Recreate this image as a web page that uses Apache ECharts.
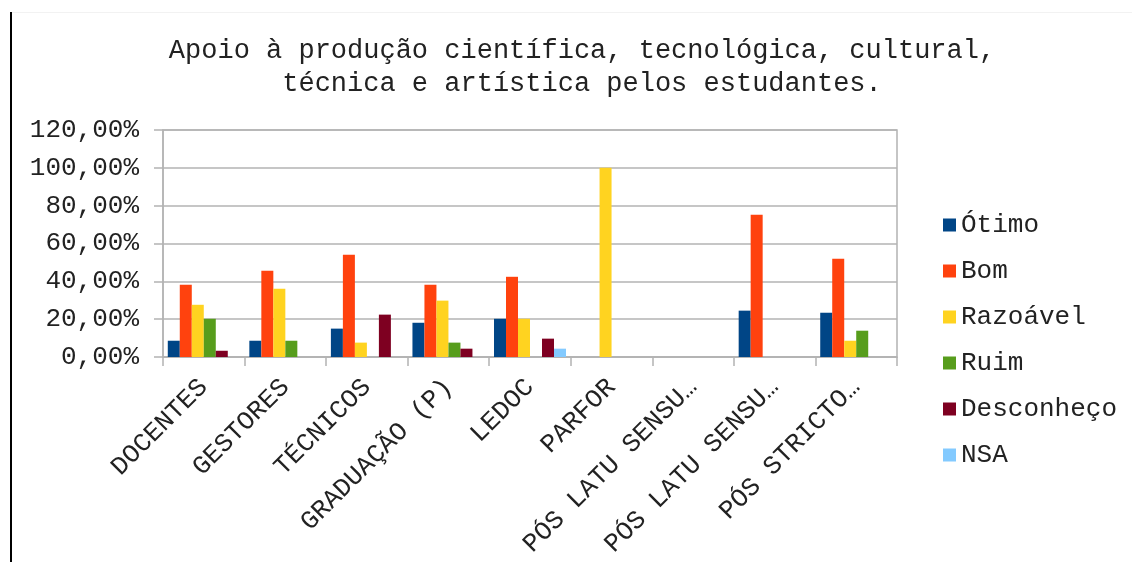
<!DOCTYPE html>
<html>
<head>
<meta charset="utf-8">
<script src="https://cdn.jsdelivr.net/npm/echarts@6/dist/echarts.min.js"></script>
<style>
  html, body { margin: 0; padding: 0; background: #fff; }
  #chart { width: 1132px; height: 562px; }
</style>
</head>
<body>
<div id="chart"></div>
<script>
// categorias (rótulos como aparecem, já cortados)
const categorias = ['DOCENTES', 'GESTORES', 'TÉCNICOS', 'GRADUAÇÃO (P)', 'LEDOC', 'PARFOR',
  'PÓS LATU SENSU…', 'PÓS LATU SENSU…', 'PÓS STRICTO…']
const nomes = ['Ótimo', 'Bom', 'Razoável', 'Ruim', 'Desconheço', 'NSA']
const cores = ['#004586', '#ff420e', '#ffd320', '#579d1c', '#7e0021', '#83caff']

// valores em %
const otimo      = [8.6, 8.6, 15.0, 18.1, 20.2, 0, 0, 24.5, 23.4]
const bom        = [38.2, 45.6, 54.0, 38.2, 42.4, 0, 0, 75.2, 51.9]
const razoavel   = [27.6, 36.1, 7.6, 29.8, 20.2, 100, 0, 0, 8.6]
const ruim       = [20.2, 8.6, 0, 7.6, 0, 0, 0, 0, 13.9]
const desconheco = [3.3, 0, 22.4, 4.4, 9.7, 0, 0, 0, 0]
const nsa        = [0, 0, 0, 0, 4.4, 0, 0, 0, 0]
const valores = [otimo, bom, razoavel, ruim, desconheco, nsa]

const fonte = 'Liberation Mono'
const cinza = '#b3b3b3'

let myChart = echarts.init(document.getElementById('chart'))

let series = nomes.map((n, i) => ({
  name: n,
  type: 'bar',
  barWidth: 12,
  barGap: '0%',
  itemStyle: { color: cores[i] },
  data: valores[i]
}))

let option = {
  animation: false,
  textStyle: { fontFamily: fonte, color: '#222' },
  title: {
    text: 'Apoio à produção científica, tecnológica, cultural,\ntécnica e artística pelos estudantes.',
    left: 577,
    top: 29,
    textAlign: 'center',
    textStyle: {
      fontFamily: fonte,
      fontSize: 27,
      fontWeight: 'normal',
      lineHeight: 33,
      color: '#222'
    }
  },
  legend: {
    orient: 'vertical',
    left: 938,
    top: 207,
    icon: 'rect',
    itemWidth: 13,
    itemHeight: 13,
    itemGap: 20,
    data: nomes,
    textStyle: { fontFamily: fonte, fontSize: 26, lineHeight: 26, color: '#222' }
  },
  grid: {
    left: 163,
    right: 235,
    top: 130,
    bottom: 205,
    show: true,
    borderColor: cinza,
    borderWidth: 1.5
  },
  xAxis: {
    type: 'category',
    data: categorias,
    axisLine: { lineStyle: { color: cinza, width: 1.5 } },
    axisTick: { show: true, length: 9, lineStyle: { color: cinza, width: 1.5 } },
    axisLabel: {
      rotate: 45,
      margin: 26,
      interval: 0,
      fontFamily: fonte,
      fontSize: 26,
      color: '#222'
    }
  },
  yAxis: {
    type: 'value',
    min: 0,
    max: 120,
    interval: 20,
    axisLine: { show: true, lineStyle: { color: cinza, width: 1.5 } },
    axisTick: { show: true, length: 9, lineStyle: { color: cinza, width: 1.5 } },
    splitLine: { lineStyle: { color: cinza, width: 1.5 } },
    axisLabel: {
      margin: 24,
      fontFamily: fonte,
      fontSize: 26,
      color: '#222',
      formatter: v => v.toFixed(2).replace('.', ',') + '%'
    }
  },
  graphic: [
    {
      type: 'line',
      shape: { x1: 11, y1: 12, x2: 11, y2: 562 },
      style: { stroke: '#000', lineWidth: 2 }
    },
    {
      type: 'line',
      shape: { x1: 12, y1: 12.5, x2: 1132, y2: 12.5 },
      style: { stroke: '#f2f2f2', lineWidth: 1 }
    }
  ],
  series: series
}

myChart.setOption(option, true)
</script>
</body>
</html>
